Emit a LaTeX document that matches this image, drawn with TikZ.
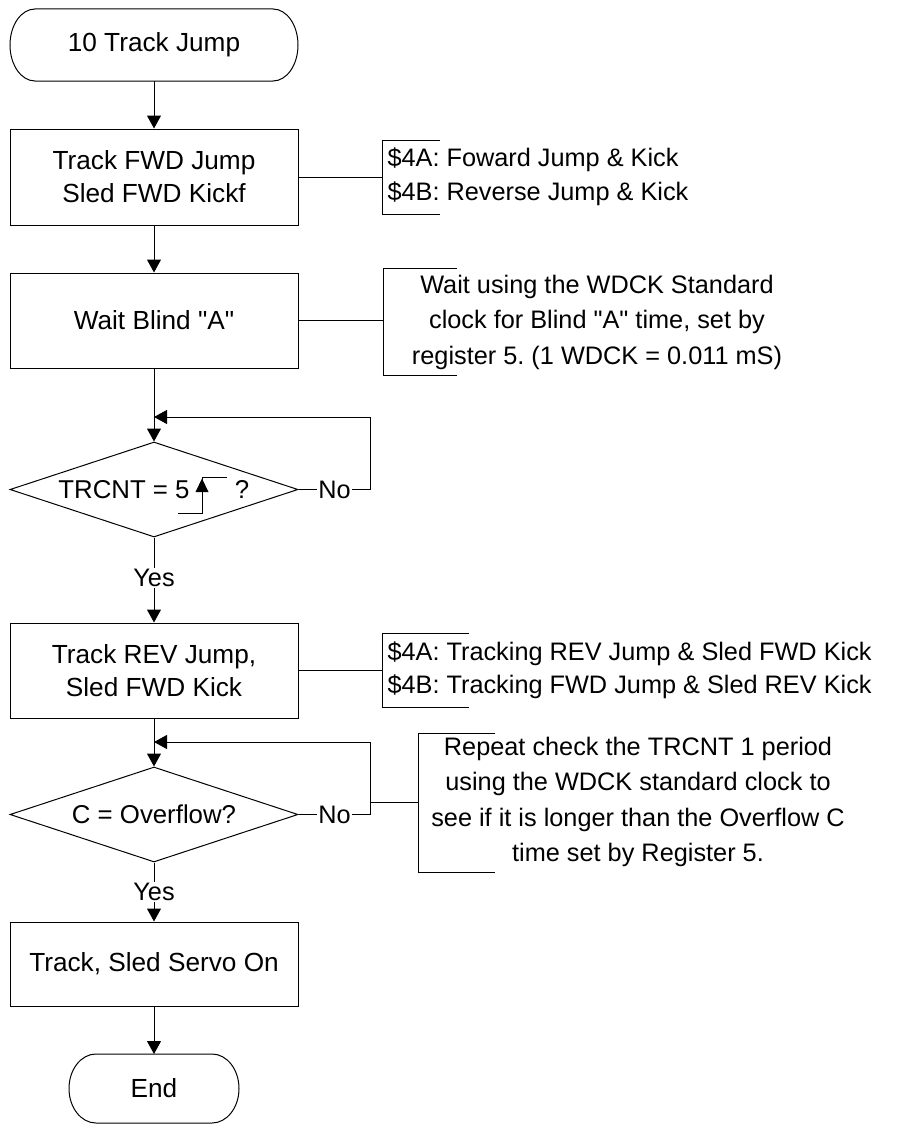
\documentclass[tikz,border=0pt]{standalone}
\usepackage{fontspec}
\newfontfamily\arialf{Liberation Sans}
\usetikzlibrary{shapes.geometric,arrows.meta}
\frenchspacing
\begin{document}
\begin{tikzpicture}[x=1pt,y=-1pt, line width=1pt,
  font=\arialf\fontsize{26.2}{33}\selectfont,
  box/.style={draw, minimum width=288pt, inner sep=0pt, align=center},
  term/.style={minimum width=#1, inner sep=0pt, outer sep=0pt},
  dia/.style={draw, diamond, shape aspect=3, minimum width=288pt, minimum height=95pt, inner sep=0pt, font=\arialf\fontsize{25.8}{33}\selectfont},
  arr/.style={-{Triangle[length=13pt,width=14pt]}},
  lbl/.style={fill=white, inner xsep=1.5pt, inner ysep=1pt, font=\arialf\fontsize{25.3}{33}\selectfont},
  note/.style={align=center, inner sep=0pt, font=\arialf\fontsize{25.3}{35.5}\selectfont\frenchspacing},
  notel/.style={align=left, anchor=west, inner sep=0pt, font=\arialf\fontsize{25.3}{33.5}\selectfont},
]
\useasboundingbox (0,0) rectangle (899,1124);

% terminals and process boxes
\node[term=288pt, minimum height=72pt] (start) at (154,45) {10 Track Jump};
\draw ([xshift=25pt]start.north west) -- ([xshift=-25pt]start.north east)
  arc[start angle=90,end angle=-90,x radius=25pt,y radius=36pt]
  -- ([xshift=25pt]start.south west)
  arc[start angle=270,end angle=90,x radius=25pt,y radius=36pt] -- cycle;

\node[box, minimum height=96pt] (b1) at (154,177) {Track FWD Jump\\Sled FWD Kickf};
\node[box, minimum height=95pt] (b2) at (154,320.5) {Wait Blind "A"};
\node[dia] (d1) at (154,489.5) {};
\node[inner sep=0pt, font=\arialf\fontsize{25.8}{33}\selectfont] (t1) at (124,489.5) {TRCNT = 5};
\node[inner sep=0pt, font=\arialf\fontsize{25.8}{33}\selectfont] (q1) at (242,489.5) {?};
\draw (178,513) -| (202,477) -- (227,477);
\fill (202,478.5) -- (195.5,492) -- (208.5,492) -- cycle;

\node[box, minimum height=95pt] (b3) at (154,670.5) {Track REV Jump,\\Sled FWD Kick};
\node[dia] (d2) at (154,814.5) {C = Overflow?};
\node[box, minimum height=84pt] (b4) at (154,964) {Track, Sled Servo On};

\node[term=170pt, minimum height=69pt] (fin) at (154,1088.5) {End};
\draw ([xshift=27pt]fin.north west) -- ([xshift=-27pt]fin.north east)
  arc[start angle=90,end angle=-90,x radius=27pt,y radius=34.5pt]
  -- ([xshift=27pt]fin.south west)
  arc[start angle=270,end angle=90,x radius=27pt,y radius=34.5pt] -- cycle;

% main flow
\draw[arr] (start.south) -- (b1.north);
\draw[arr] (b1.south) -- (b2.north);
\draw[arr] (b2.south) -- (d1.north);
\draw[arr] (d1.south) -- node[lbl, pos=0.48]{Yes} (b3.north);
\draw[arr] (b3.south) -- (d2.north);
\draw[arr] (d2.south) -- node[lbl]{Yes} (b4.north);
\draw[arr] (b4.south) -- (fin.north);

% loops
\coordinate (j1) at (154,417);
\draw[arr] (d1.east) -- node[lbl]{No} ++(72,0) |- (j1);
\coordinate (j2) at (154,742);
\draw[arr] (d2.east) -- node[lbl]{No} ++(72,0) |- (j2);

% annotations
\node[notel] (a1) at (387,177) {\$4A: Foward Jump \& Kick\\\$4B: Reverse Jump \& Kick};
\coordinate (a1m) at (382,177);
\draw (440,140) -| (382,214) -- (440,214);
\draw (b1.east) -- (a1m);

\node[note] (a2) at (597,322) {Wait using the WDCK Standard\\clock for Blind "A" time, set by\\register 5. (1 WDCK = 0.011 mS)};
\coordinate (a2m) at (383,320.5);
\draw (457,268) -| (383,375) -- (457,375);
\draw (b2.east) -- (a2m);

\node[notel] (a3) at (387,670.5) {\$4A: Tracking REV Jump \& Sled FWD Kick\\\$4B: Tracking FWD Jump \& Sled REV Kick};
\coordinate (a3m) at (382,670.5);
\draw (469,633) -| (382,707) -- (469,707);
\draw (b3.east) -- (a3m);

\node[note] (a4) at (638,802) {Repeat check the TRCNT 1 period\\using the WDCK standard clock to\\see if it is longer than the Overflow C\\time set by Register 5.};
\coordinate (a4m) at (418,802);
\coordinate (a4j) at (370,802);
\draw (495,733) -| (418,872) -- (495,872);
\draw (a4j) -- (a4m);
\end{tikzpicture}
\end{document}
